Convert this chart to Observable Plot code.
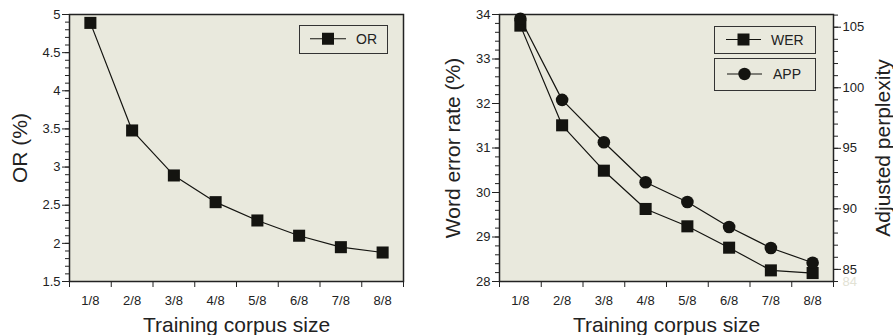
<!DOCTYPE html>
<html><head><meta charset="utf-8">
<script src="https://cdn.jsdelivr.net/npm/d3@7"></script>
<script src="https://cdn.jsdelivr.net/npm/@observablehq/plot@0.6"></script>
<style>
body{margin:0;background:#fff;}
#wrap{position:relative;width:893px;height:335px;overflow:hidden;font-family:"Liberation Sans",Arial,Helvetica,sans-serif;}
#wrap svg.plt{position:absolute;top:0;overflow:visible;}
.leg{position:absolute;box-sizing:border-box;border:1.5px solid #333;background:#e9e9dd;font-size:14px;color:#222;}
.leg svg{position:absolute;top:0;left:0;}
.leg span{position:absolute;top:50%;transform:translateY(-50%);}
</style></head><body><div id="wrap"></div>
<script>
const sizes = ["1/8","2/8","3/8","4/8","5/8","6/8","7/8","8/8"];
const orValues = [4.89, 3.48, 2.89, 2.54, 2.30, 2.10, 1.95, 1.88];
const werValues = [33.75, 31.51, 30.49, 29.63, 29.24, 28.76, 28.25, 28.19];
const appValues = [105.7, 99.0, 95.5, 92.2, 90.57, 88.5, 86.77, 85.55];
const orTicks = [1.5, 2, 2.5, 3, 3.5, 4, 4.5, 5];
const werTicks = [28, 29, 30, 31, 32, 33, 34];
const appTicks = [85, 90, 95, 100, 105];
const xLabel = "Training corpus size";
const orLabel = "OR (%)";
const werLabel = "Word error rate (%)";
const appLabel = "Adjusted perplexity";

const BG = "#e9e9dd", INK = "#141410";
const idx = sizes.map((s, i) => i + 1);
const orData = sizes.map((s, i) => ({i: i + 1, size: s, v: orValues[i]}));
const werData = sizes.map((s, i) => ({i: i + 1, size: s, v: werValues[i]}));
const appData = sizes.map((s, i) => ({i: i + 1, size: s, v: appValues[i]}));

const fmt = d => String(d);
const style = {fontFamily: '"Liberation Sans", Arial, Helvetica, sans-serif', fontSize: "13px", background: "transparent", color: "#222", overflow: "visible"};
const common = {height: 335, marginTop: 14, marginBottom: 54, style};
const xScale = {type: "linear", domain: [0.5, 8.5]};
const xAxes = () => [
  Plot.axisX({ticks: d3.range(0.5, 9, 1), tickSize: 6, tickFormat: () => "", label: null}),
  Plot.axisX({ticks: idx, tickSize: 0, tickPadding: 14, tickFormat: i => sizes[i - 1], label: null})
];
const labelText = (t, o) => Plot.text([t], {text: d => d, fontSize: 21, lineAnchor: "middle", textAnchor: "middle", fill: "#222", ...o});

const left = Plot.plot({
  width: 450, ...common, marginLeft: 69, marginRight: 47,
  x: xScale, y: {domain: [1.5, 5]},
  marks: [
    Plot.frame({fill: BG}),
    Plot.axisY({ticks: d3.range(15, 51).map(d => d / 10), tickSize: 4, tickFormat: () => "", label: null}),
    Plot.axisY({ticks: orTicks, tickSize: 7, tickPadding: 2, tickFormat: fmt, label: null}),
    ...xAxes(),
    Plot.line(orData, {x: "i", y: "v", stroke: INK, strokeWidth: 1.2}),
    Plot.dot(orData, {x: "i", y: "v", symbol: "square", r: 6.8, fill: INK}),
    Plot.frame({stroke: "#222", strokeWidth: 1.5}),
    labelText(orLabel, {frameAnchor: "left", dx: -49, rotate: -90}),
    labelText(xLabel, {frameAnchor: "bottom", dy: 44})
  ]
});

const rightW = Plot.plot({
  width: 443, ...common, marginLeft: 49, marginRight: 60,
  x: xScale, y: {domain: [28, 34]},
  marks: [
    Plot.frame({fill: BG}),
    Plot.axisY({ticks: d3.range(140, 171).map(d => d / 5), tickSize: 4, tickFormat: () => "", label: null}),
    Plot.axisY({ticks: werTicks, tickSize: 7, tickPadding: 2, tickFormat: fmt, label: null}),
    ...xAxes(),
    Plot.line(werData, {x: "i", y: "v", stroke: INK, strokeWidth: 1.2}),
    Plot.dot(werData, {x: "i", y: "v", symbol: "square", r: 6.8, fill: INK}),
    Plot.frame({stroke: "#222", strokeWidth: 1.5}),
    labelText(werLabel, {frameAnchor: "left", dx: -46, rotate: -90}),
    labelText(xLabel, {frameAnchor: "bottom", dy: 44})
  ]
});

const rightA = Plot.plot({
  width: 443, ...common, marginLeft: 49, marginRight: 60,
  x: {...xScale, axis: null}, y: {domain: [84, 106.05], axis: null},
  marks: [
    Plot.axisY({anchor: "right", ticks: d3.range(84, 107), tickSize: 4, tickFormat: () => "", label: null}),
    Plot.axisY({anchor: "right", ticks: appTicks, tickSize: 7, tickPadding: 2, tickFormat: fmt, label: null}),
    Plot.axisY({anchor: "right", ticks: [84], tickSize: 0, tickPadding: 9, tickFormat: fmt, fill: "#e2e2d4", label: null}),
    Plot.line(appData, {x: "i", y: "v", stroke: INK, strokeWidth: 1.2}),
    Plot.dot(appData, {x: "i", y: "v", symbol: "circle", r: 6.3, fill: INK}),
    labelText(appLabel, {frameAnchor: "right", dx: 50, rotate: -90})
  ]
});

const wrap = document.getElementById("wrap");
[[left, 0], [rightW, 450], [rightA, 450]].forEach(([s, x]) => {
  s.classList.add("plt");
  s.style.left = x + "px";
  wrap.appendChild(s);
});

function legend(x, y, w, h, x1, x2, sym, text, tx) {
  const d = document.createElement("div");
  d.className = "leg";
  Object.assign(d.style, {left: x + "px", top: y + "px", width: w + "px", height: h + "px"});
  const cy = (h - 3) / 2, cx = (x1 + x2) / 2;
  const m = sym === "square"
    ? `<rect x="${cx - 6}" y="${cy - 6}" width="12" height="12" fill="${INK}"/>`
    : `<circle cx="${cx}" cy="${cy}" r="6.2" fill="${INK}"/>`;
  d.innerHTML = `<svg width="${w}" height="${h}"><line x1="${x1}" x2="${x2}" y1="${cy}" y2="${cy}" stroke="${INK}" stroke-width="1.2"/>${m}</svg><span style="left:${tx}px">${text}</span>`;
  wrap.appendChild(d);
}
legend(299, 25, 89, 28.5, 10, 46, "square", "OR", 56);
legend(714, 25.5, 102, 28, 11, 46, "square", "WER", 56);
legend(714, 57.5, 102, 33, 12, 47, "circle", "APP", 58);
</script>
</body></html>
